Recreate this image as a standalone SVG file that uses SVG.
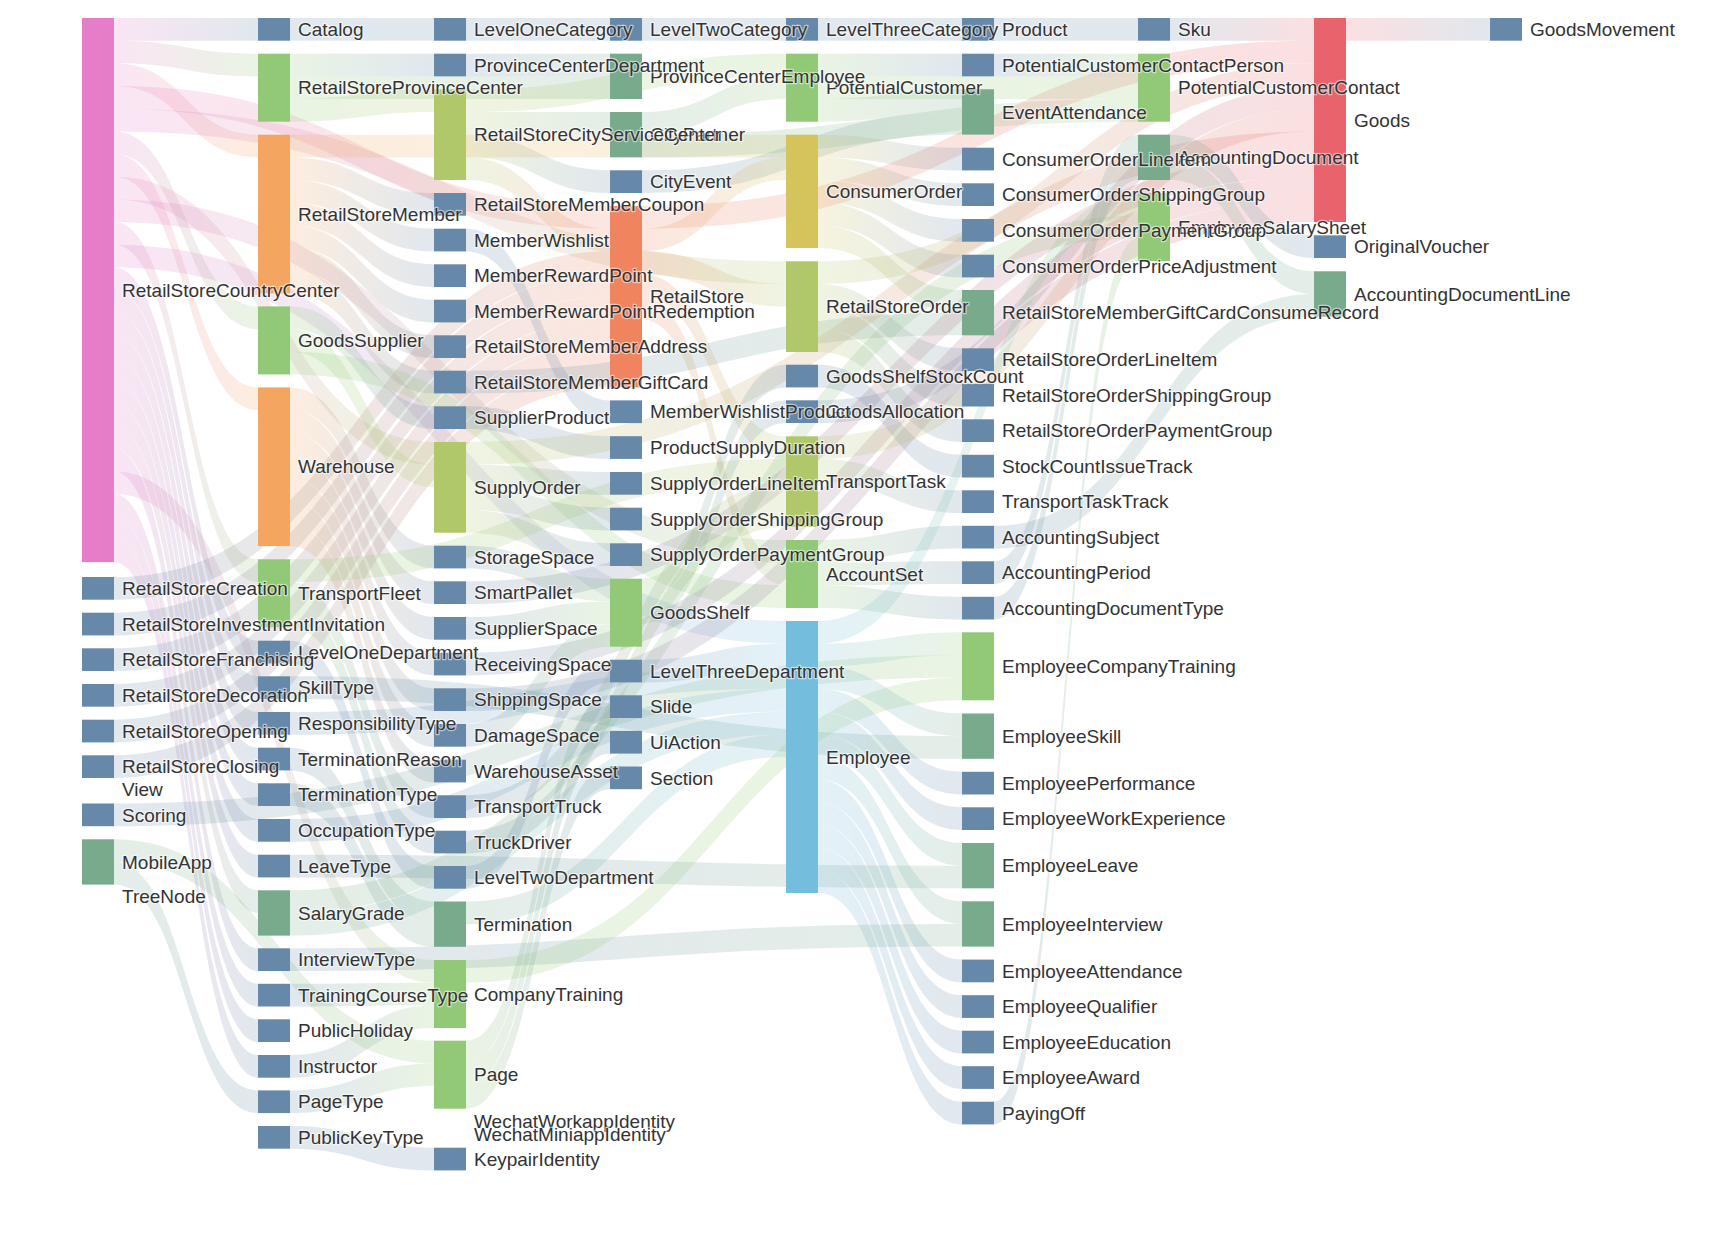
<svg xmlns="http://www.w3.org/2000/svg" width="1732" height="1242" viewBox="0 0 1732 1242">
<style>
.lk{fill-opacity:.2}
text{font-family:"Liberation Sans",Arial,Helvetica,sans-serif;font-size:19px;fill:#333;stroke:#fff;stroke-width:2.5px;stroke-opacity:.55;stroke-linejoin:round;paint-order:stroke}
.P{fill:#e67dc8}.B{fill:#6789a9}.G{fill:#91c977}.O{fill:#f4a55f}.L{fill:#b1c86a}.S{fill:#78aa8c}.R{fill:#ef845f}.Y{fill:#d5c35c}.D{fill:#e8636b}.C{fill:#74bddc}
</style>
<defs>
<linearGradient id="PB"><stop offset="0" stop-color="#e67dc8"/><stop offset="1" stop-color="#6789a9"/></linearGradient>
<linearGradient id="PG"><stop offset="0" stop-color="#e67dc8"/><stop offset="1" stop-color="#91c977"/></linearGradient>
<linearGradient id="PO"><stop offset="0" stop-color="#e67dc8"/><stop offset="1" stop-color="#f4a55f"/></linearGradient>
<linearGradient id="PR"><stop offset="0" stop-color="#e67dc8"/><stop offset="1" stop-color="#ef845f"/></linearGradient>
<linearGradient id="PL"><stop offset="0" stop-color="#e67dc8"/><stop offset="1" stop-color="#b1c86a"/></linearGradient>
<linearGradient id="PC"><stop offset="0" stop-color="#e67dc8"/><stop offset="1" stop-color="#74bddc"/></linearGradient>
<linearGradient id="PS"><stop offset="0" stop-color="#e67dc8"/><stop offset="1" stop-color="#78aa8c"/></linearGradient>
<linearGradient id="BR"><stop offset="0" stop-color="#6789a9"/><stop offset="1" stop-color="#ef845f"/></linearGradient>
<linearGradient id="BG"><stop offset="0" stop-color="#6789a9"/><stop offset="1" stop-color="#91c977"/></linearGradient>
<linearGradient id="BB"><stop offset="0" stop-color="#6789a9"/><stop offset="1" stop-color="#6789a9"/></linearGradient>
<linearGradient id="BS"><stop offset="0" stop-color="#6789a9"/><stop offset="1" stop-color="#78aa8c"/></linearGradient>
<linearGradient id="BC"><stop offset="0" stop-color="#6789a9"/><stop offset="1" stop-color="#74bddc"/></linearGradient>
<linearGradient id="BD"><stop offset="0" stop-color="#6789a9"/><stop offset="1" stop-color="#e8636b"/></linearGradient>
<linearGradient id="BL"><stop offset="0" stop-color="#6789a9"/><stop offset="1" stop-color="#b1c86a"/></linearGradient>
<linearGradient id="SG"><stop offset="0" stop-color="#78aa8c"/><stop offset="1" stop-color="#91c977"/></linearGradient>
<linearGradient id="SB"><stop offset="0" stop-color="#78aa8c"/><stop offset="1" stop-color="#6789a9"/></linearGradient>
<linearGradient id="SC"><stop offset="0" stop-color="#78aa8c"/><stop offset="1" stop-color="#74bddc"/></linearGradient>
<linearGradient id="SS"><stop offset="0" stop-color="#78aa8c"/><stop offset="1" stop-color="#78aa8c"/></linearGradient>
<linearGradient id="GB"><stop offset="0" stop-color="#91c977"/><stop offset="1" stop-color="#6789a9"/></linearGradient>
<linearGradient id="GS"><stop offset="0" stop-color="#91c977"/><stop offset="1" stop-color="#78aa8c"/></linearGradient>
<linearGradient id="GL"><stop offset="0" stop-color="#91c977"/><stop offset="1" stop-color="#b1c86a"/></linearGradient>
<linearGradient id="GG"><stop offset="0" stop-color="#91c977"/><stop offset="1" stop-color="#91c977"/></linearGradient>
<linearGradient id="OY"><stop offset="0" stop-color="#f4a55f"/><stop offset="1" stop-color="#d5c35c"/></linearGradient>
<linearGradient id="OB"><stop offset="0" stop-color="#f4a55f"/><stop offset="1" stop-color="#6789a9"/></linearGradient>
<linearGradient id="LG"><stop offset="0" stop-color="#b1c86a"/><stop offset="1" stop-color="#91c977"/></linearGradient>
<linearGradient id="LS"><stop offset="0" stop-color="#b1c86a"/><stop offset="1" stop-color="#78aa8c"/></linearGradient>
<linearGradient id="LB"><stop offset="0" stop-color="#b1c86a"/><stop offset="1" stop-color="#6789a9"/></linearGradient>
<linearGradient id="LR"><stop offset="0" stop-color="#b1c86a"/><stop offset="1" stop-color="#ef845f"/></linearGradient>
<linearGradient id="LD"><stop offset="0" stop-color="#b1c86a"/><stop offset="1" stop-color="#e8636b"/></linearGradient>
<linearGradient id="RD"><stop offset="0" stop-color="#ef845f"/><stop offset="1" stop-color="#e8636b"/></linearGradient>
<linearGradient id="RY"><stop offset="0" stop-color="#ef845f"/><stop offset="1" stop-color="#d5c35c"/></linearGradient>
<linearGradient id="RL"><stop offset="0" stop-color="#ef845f"/><stop offset="1" stop-color="#b1c86a"/></linearGradient>
<linearGradient id="RG"><stop offset="0" stop-color="#ef845f"/><stop offset="1" stop-color="#91c977"/></linearGradient>
<linearGradient id="YB"><stop offset="0" stop-color="#d5c35c"/><stop offset="1" stop-color="#6789a9"/></linearGradient>
<linearGradient id="YS"><stop offset="0" stop-color="#d5c35c"/><stop offset="1" stop-color="#78aa8c"/></linearGradient>
<linearGradient id="CG"><stop offset="0" stop-color="#74bddc"/><stop offset="1" stop-color="#91c977"/></linearGradient>
<linearGradient id="CS"><stop offset="0" stop-color="#74bddc"/><stop offset="1" stop-color="#78aa8c"/></linearGradient>
<linearGradient id="CB"><stop offset="0" stop-color="#74bddc"/><stop offset="1" stop-color="#6789a9"/></linearGradient>
<linearGradient id="DB"><stop offset="0" stop-color="#e8636b"/><stop offset="1" stop-color="#6789a9"/></linearGradient>
</defs>
<rect width="1732" height="1242" fill="#fff"/>
<g id="links">
<path class="lk" fill="url(#PB)" d="M114 18C186 18 186 18 258 18V40.7C186 40.7 186 40.7 114 40.7Z"/>
<path class="lk" fill="url(#PG)" d="M114 40.7C186 40.7 186 53.7 258 53.7V76.4C186 76.4 186 63.3 114 63.3Z"/>
<path class="lk" fill="url(#PO)" d="M114 63.3C186 63.3 186 134.7 258 134.7V157.4C186 157.4 186 86 114 86Z"/>
<path class="lk" fill="url(#PR)" d="M114 86C362 86 362 206 610 206V228.7C362 228.7 362 108.7 114 108.7Z"/>
<path class="lk" fill="url(#PL)" d="M114 108.7C450 108.7 450 261.3 786 261.3V284C450 284 450 131.4 114 131.4Z"/>
<path class="lk" fill="url(#PG)" d="M114 131.4C186 131.4 186 306.4 258 306.4V329.1C186 329.1 186 154 114 154Z"/>
<path class="lk" fill="url(#PO)" d="M114 154C186 154 186 387.4 258 387.4V410.1C186 410.1 186 176.7 114 176.7Z"/>
<path class="lk" fill="url(#PL)" d="M114 176.7C274 176.7 274 442 434 442V464.7C274 464.7 274 199.4 114 199.4Z"/>
<path class="lk" fill="url(#PG)" d="M114 199.4C450 199.4 450 540 786 540V562.7C450 562.7 450 222 114 222Z"/>
<path class="lk" fill="url(#PG)" d="M114 222C186 222 186 559.3 258 559.3V582C186 582 186 244.7 114 244.7Z"/>
<path class="lk" fill="url(#PC)" d="M114 244.7C450 244.7 450 621 786 621V643.7C450 643.7 450 267.4 114 267.4Z"/>
<path class="lk" fill="url(#PB)" d="M114 267.4C186 267.4 186 640.7 258 640.7V663.4C186 663.4 186 290 114 290Z"/>
<path class="lk" fill="url(#PB)" d="M114 290C186 290 186 676.3 258 676.3V699C186 699 186 312.7 114 312.7Z"/>
<path class="lk" fill="url(#PB)" d="M114 312.7C186 312.7 186 712 258 712V734.7C186 734.7 186 335.4 114 335.4Z"/>
<path class="lk" fill="url(#PB)" d="M114 335.4C186 335.4 186 747.7 258 747.7V770.4C186 770.4 186 358 114 358Z"/>
<path class="lk" fill="url(#PB)" d="M114 358C186 358 186 783.3 258 783.3V806C186 806 186 380.7 114 380.7Z"/>
<path class="lk" fill="url(#PB)" d="M114 380.7C186 380.7 186 819 258 819V841.7C186 841.7 186 403.4 114 403.4Z"/>
<path class="lk" fill="url(#PB)" d="M114 403.4C186 403.4 186 854.7 258 854.7V877.4C186 877.4 186 426.1 114 426.1Z"/>
<path class="lk" fill="url(#PS)" d="M114 426.1C186 426.1 186 890.3 258 890.3V913C186 913 186 448.7 114 448.7Z"/>
<path class="lk" fill="url(#PB)" d="M114 448.7C186 448.7 186 948.3 258 948.3V971C186 971 186 471.4 114 471.4Z"/>
<path class="lk" fill="url(#PG)" d="M114 471.4C274 471.4 274 960 434 960V982.7C274 982.7 274 494.1 114 494.1Z"/>
<path class="lk" fill="url(#PB)" d="M114 494.1C186 494.1 186 983.8 258 983.8V1006.5C186 1006.5 186 516.7 114 516.7Z"/>
<path class="lk" fill="url(#PB)" d="M114 516.7C186 516.7 186 1019.3 258 1019.3V1042C186 1042 186 539.4 114 539.4Z"/>
<path class="lk" fill="url(#PB)" d="M114 539.4C186 539.4 186 1055 258 1055V1077.7C186 1077.7 186 562.1 114 562.1Z"/>
<path class="lk" fill="url(#BR)" d="M114 577C362 577 362 251.3 610 251.3V274C362 274 362 599.7 114 599.7Z"/>
<path class="lk" fill="url(#BR)" d="M114 612.7C362 612.7 362 274 610 274V296.7C362 296.7 362 635.4 114 635.4Z"/>
<path class="lk" fill="url(#BR)" d="M114 648.3C362 648.3 362 296.7 610 296.7V319.4C362 319.4 362 671 114 671Z"/>
<path class="lk" fill="url(#BR)" d="M114 684C362 684 362 319.4 610 319.4V342C362 342 362 706.7 114 706.7Z"/>
<path class="lk" fill="url(#BR)" d="M114 719.7C362 719.7 362 342 610 342V364.7C362 364.7 362 742.4 114 742.4Z"/>
<path class="lk" fill="url(#BR)" d="M114 755.3C362 755.3 362 364.7 610 364.7V387.4C362 387.4 362 778 114 778Z"/>
<path class="lk" fill="url(#BG)" d="M114 803.5C538 803.5 538 655 962 655V677.6C538 677.6 538 826.2 114 826.2Z"/>
<path class="lk" fill="url(#SG)" d="M114 839.3C274 839.3 274 1040.7 434 1040.7V1063.4C274 1063.4 274 862 114 862Z"/>
<path class="lk" fill="url(#SB)" d="M114 862C186 862 186 1090.4 258 1090.4V1113.1C186 1113.1 186 884.6 114 884.6Z"/>
<path class="lk" fill="url(#BB)" d="M290 18C362 18 362 18 434 18V40.7C362 40.7 362 40.7 290 40.7Z"/>
<path class="lk" fill="url(#GB)" d="M290 53.7C362 53.7 362 53.7 434 53.7V76.4C362 76.4 362 76.4 290 76.4Z"/>
<path class="lk" fill="url(#GS)" d="M290 76.4C450 76.4 450 76.4 610 76.4V99C450 99 450 99 290 99Z"/>
<path class="lk" fill="url(#GL)" d="M290 99C362 99 362 89.3 434 89.3V112C362 112 362 121.7 290 121.7Z"/>
<path class="lk" fill="url(#OY)" d="M290 134.7C538 134.7 538 134.7 786 134.7V157.4C538 157.4 538 157.4 290 157.4Z"/>
<path class="lk" fill="url(#OB)" d="M290 157.4C362 157.4 362 193 434 193V215.7C362 215.7 362 180 290 180Z"/>
<path class="lk" fill="url(#OB)" d="M290 180C362 180 362 228.7 434 228.7V251.4C362 251.4 362 202.7 290 202.7Z"/>
<path class="lk" fill="url(#OB)" d="M290 202.7C362 202.7 362 264.3 434 264.3V287C362 287 362 225.4 290 225.4Z"/>
<path class="lk" fill="url(#OB)" d="M290 225.4C362 225.4 362 299.7 434 299.7V322.4C362 322.4 362 248 290 248Z"/>
<path class="lk" fill="url(#OB)" d="M290 248C362 248 362 335.3 434 335.3V358C362 358 362 270.7 290 270.7Z"/>
<path class="lk" fill="url(#OB)" d="M290 270.7C362 270.7 362 370.7 434 370.7V393.4C362 393.4 362 293.4 290 293.4Z"/>
<path class="lk" fill="url(#GB)" d="M290 306.4C362 306.4 362 406.3 434 406.3V429C362 429 362 329.1 290 329.1Z"/>
<path class="lk" fill="url(#GL)" d="M290 329.1C362 329.1 362 464.7 434 464.7V487.3C362 487.3 362 351.7 290 351.7Z"/>
<path class="lk" fill="url(#GG)" d="M290 351.7C538 351.7 538 585.3 786 585.3V608C538 608 538 374.4 290 374.4Z"/>
<path class="lk" fill="url(#OB)" d="M290 387.4C362 387.4 362 545.7 434 545.7V568.4C362 568.4 362 410.1 290 410.1Z"/>
<path class="lk" fill="url(#OB)" d="M290 410.1C362 410.1 362 581.3 434 581.3V604C362 604 362 432.7 290 432.7Z"/>
<path class="lk" fill="url(#OB)" d="M290 432.7C362 432.7 362 617 434 617V639.7C362 639.7 362 455.4 290 455.4Z"/>
<path class="lk" fill="url(#OB)" d="M290 455.4C362 455.4 362 652.7 434 652.7V675.4C362 675.4 362 478.1 290 478.1Z"/>
<path class="lk" fill="url(#OB)" d="M290 478.1C362 478.1 362 688.3 434 688.3V711C362 711 362 500.8 290 500.8Z"/>
<path class="lk" fill="url(#OB)" d="M290 500.8C362 500.8 362 724 434 724V746.7C362 746.7 362 523.4 290 523.4Z"/>
<path class="lk" fill="url(#OB)" d="M290 523.4C362 523.4 362 759.7 434 759.7V782.4C362 782.4 362 546.1 290 546.1Z"/>
<path class="lk" fill="url(#GL)" d="M290 559.3C538 559.3 538 459 786 459V481.6C538 481.6 538 582 290 582Z"/>
<path class="lk" fill="url(#GB)" d="M290 582C362 582 362 795.3 434 795.3V818C362 818 362 604.6 290 604.6Z"/>
<path class="lk" fill="url(#GB)" d="M290 604.6C362 604.6 362 830.7 434 830.7V853.4C362 853.4 362 627.3 290 627.3Z"/>
<path class="lk" fill="url(#BB)" d="M290 640.7C362 640.7 362 866 434 866V888.7C362 888.7 362 663.4 290 663.4Z"/>
<path class="lk" fill="url(#BS)" d="M290 676.3C626 676.3 626 736.2 962 736.2V758.8C626 758.8 626 699 290 699Z"/>
<path class="lk" fill="url(#BC)" d="M290 712C538 712 538 666.3 786 666.3V689C538 689 538 734.7 290 734.7Z"/>
<path class="lk" fill="url(#BS)" d="M290 747.7C362 747.7 362 901.5 434 901.5V924.2C362 924.2 362 770.4 290 770.4Z"/>
<path class="lk" fill="url(#BS)" d="M290 783.3C362 783.3 362 924.2 434 924.2V946.8C362 946.8 362 806 290 806Z"/>
<path class="lk" fill="url(#BC)" d="M290 819C538 819 538 689 786 689V711.7C538 711.7 538 841.7 290 841.7Z"/>
<path class="lk" fill="url(#BS)" d="M290 854.7C626 854.7 626 865.7 962 865.7V888.3C626 888.3 626 877.4 290 877.4Z"/>
<path class="lk" fill="url(#SG)" d="M290 890.3C714 890.3 714 215.7 1138 215.7V238.3C714 238.3 714 913 290 913Z"/>
<path class="lk" fill="url(#SC)" d="M290 913C538 913 538 711.7 786 711.7V734.4C538 734.4 538 935.6 290 935.6Z"/>
<path class="lk" fill="url(#BS)" d="M290 948.3C626 948.3 626 924 962 924V946.6C626 946.6 626 971 290 971Z"/>
<path class="lk" fill="url(#BG)" d="M290 983.8C362 983.8 362 982.7 434 982.7V1005.3C362 1005.3 362 1006.5 290 1006.5Z"/>
<path class="lk" fill="url(#BG)" d="M290 1055C362 1055 362 1005.3 434 1005.3V1028C362 1028 362 1077.7 290 1077.7Z"/>
<path class="lk" fill="url(#BG)" d="M290 1090.4C362 1090.4 362 1063.4 434 1063.4V1086C362 1086 362 1113.1 290 1113.1Z"/>
<path class="lk" fill="url(#BB)" d="M290 1126C362 1126 362 1147.7 434 1147.7V1170.4C362 1170.4 362 1148.7 290 1148.7Z"/>
<path class="lk" fill="url(#BB)" d="M466 18C538 18 538 18 610 18V40.7C538 40.7 538 40.7 466 40.7Z"/>
<path class="lk" fill="url(#BS)" d="M466 53.7C538 53.7 538 53.7 610 53.7V76.4C538 76.4 538 76.4 466 76.4Z"/>
<path class="lk" fill="url(#LG)" d="M466 89.3C626 89.3 626 53.7 786 53.7V76.4C626 76.4 626 112 466 112Z"/>
<path class="lk" fill="url(#LS)" d="M466 112C538 112 538 112 610 112V134.7C538 134.7 538 134.7 466 134.7Z"/>
<path class="lk" fill="url(#LB)" d="M466 134.7C538 134.7 538 170.3 610 170.3V193C538 193 538 157.3 466 157.3Z"/>
<path class="lk" fill="url(#LR)" d="M466 157.3C538 157.3 538 228.7 610 228.7V251.3C538 251.3 538 180 466 180Z"/>
<path class="lk" fill="url(#BB)" d="M466 228.7C538 228.7 538 400.4 610 400.4V423.1C538 423.1 538 251.4 466 251.4Z"/>
<path class="lk" fill="url(#BS)" d="M466 370.7C714 370.7 714 312.7 962 312.7V335.3C714 335.3 714 393.4 466 393.4Z"/>
<path class="lk" fill="url(#BB)" d="M466 406.3C538 406.3 538 436.2 610 436.2V458.9C538 458.9 538 429 466 429Z"/>
<path class="lk" fill="url(#LD)" d="M466 442C890 442 890 131.4 1314 131.4V154C890 154 890 464.7 466 464.7Z"/>
<path class="lk" fill="url(#LB)" d="M466 464.7C538 464.7 538 472 610 472V494.7C538 494.7 538 487.3 466 487.3Z"/>
<path class="lk" fill="url(#LB)" d="M466 487.3C538 487.3 538 507.7 610 507.7V530.4C538 530.4 538 510 466 510Z"/>
<path class="lk" fill="url(#LB)" d="M466 510C538 510 538 543.3 610 543.3V566C538 566 538 532.7 466 532.7Z"/>
<path class="lk" fill="url(#BG)" d="M466 545.7C538 545.7 538 578.7 610 578.7V601.4C538 601.4 538 568.4 466 568.4Z"/>
<path class="lk" fill="url(#BD)" d="M466 581.3C890 581.3 890 154 1314 154V176.7C890 176.7 890 604 466 604Z"/>
<path class="lk" fill="url(#BG)" d="M466 617C538 617 538 601.4 610 601.4V624C538 624 538 639.7 466 639.7Z"/>
<path class="lk" fill="url(#BD)" d="M466 652.7C890 652.7 890 176.7 1314 176.7V199.4C890 199.4 890 675.4 466 675.4Z"/>
<path class="lk" fill="url(#BD)" d="M466 688.3C890 688.3 890 199.4 1314 199.4V222C890 222 890 711 466 711Z"/>
<path class="lk" fill="url(#BG)" d="M466 724C538 724 538 624 610 624V646.7C538 646.7 538 746.7 466 746.7Z"/>
<path class="lk" fill="url(#BL)" d="M466 795.3C626 795.3 626 481.6 786 481.6V504.3C626 504.3 626 818 466 818Z"/>
<path class="lk" fill="url(#BL)" d="M466 830.7C626 830.7 626 504.3 786 504.3V527C626 527 626 853.4 466 853.4Z"/>
<path class="lk" fill="url(#BB)" d="M466 866C538 866 538 659.7 610 659.7V682.4C538 682.4 538 888.7 466 888.7Z"/>
<path class="lk" fill="url(#SC)" d="M466 901.5C626 901.5 626 734.4 786 734.4V757C626 757 626 924.2 466 924.2Z"/>
<path class="lk" fill="url(#GG)" d="M466 960C714 960 714 677.6 962 677.6V700.3C714 700.3 714 982.7 466 982.7Z"/>
<path class="lk" fill="url(#GB)" d="M466 1040.7C538 1040.7 538 695.3 610 695.3V718C538 718 538 1063.4 466 1063.4Z"/>
<path class="lk" fill="url(#GB)" d="M466 1063.4C538 1063.4 538 730.9 610 730.9V753.6C538 753.6 538 1086 466 1086Z"/>
<path class="lk" fill="url(#GB)" d="M466 1086C538 1086 538 766.5 610 766.5V789.2C538 789.2 538 1108.7 466 1108.7Z"/>
<path class="lk" fill="url(#BB)" d="M642 18C714 18 714 18 786 18V40.7C714 40.7 714 40.7 642 40.7Z"/>
<path class="lk" fill="url(#SG)" d="M642 112C714 112 714 76.4 786 76.4V99C714 99 714 134.7 642 134.7Z"/>
<path class="lk" fill="url(#SG)" d="M642 134.7C890 134.7 890 99 1138 99V121.7C890 121.7 890 157.3 642 157.3Z"/>
<path class="lk" fill="url(#BS)" d="M642 170.3C802 170.3 802 112 962 112V134.6C802 134.6 802 193 642 193Z"/>
<path class="lk" fill="url(#RD)" d="M642 206C978 206 978 40.7 1314 40.7V63.3C978 63.3 978 228.7 642 228.7Z"/>
<path class="lk" fill="url(#RY)" d="M642 228.7C714 228.7 714 157.4 786 157.4V180C714 180 714 251.3 642 251.3Z"/>
<path class="lk" fill="url(#RL)" d="M642 251.3C714 251.3 714 284 786 284V306.6C714 306.6 714 274 642 274Z"/>
<path class="lk" fill="url(#RL)" d="M642 274C714 274 714 436.3 786 436.3V459C714 459 714 296.7 642 296.7Z"/>
<path class="lk" fill="url(#RG)" d="M642 296.7C714 296.7 714 562.7 786 562.7V585.3C714 585.3 714 319.4 642 319.4Z"/>
<path class="lk" fill="url(#GB)" d="M642 578.7C714 578.7 714 364.7 786 364.7V387.4C714 387.4 714 601.4 642 601.4Z"/>
<path class="lk" fill="url(#GB)" d="M642 601.4C714 601.4 714 400.3 786 400.3V423C714 423 714 624 642 624Z"/>
<path class="lk" fill="url(#BC)" d="M642 659.7C714 659.7 714 643.7 786 643.7V666.3C714 666.3 714 682.4 642 682.4Z"/>
<path class="lk" fill="url(#BB)" d="M818 18C890 18 890 18 962 18V40.7C890 40.7 890 40.7 818 40.7Z"/>
<path class="lk" fill="url(#GB)" d="M818 53.7C890 53.7 890 53.7 962 53.7V76.4C890 76.4 890 76.4 818 76.4Z"/>
<path class="lk" fill="url(#GG)" d="M818 76.4C978 76.4 978 76.4 1138 76.4V99C978 99 978 99 818 99Z"/>
<path class="lk" fill="url(#GS)" d="M818 99C890 99 890 89.3 962 89.3V112C890 112 890 121.7 818 121.7Z"/>
<path class="lk" fill="url(#YB)" d="M818 134.7C890 134.7 890 147.7 962 147.7V170.4C890 170.4 890 157.4 818 157.4Z"/>
<path class="lk" fill="url(#YB)" d="M818 157.4C890 157.4 890 183.3 962 183.3V206C890 206 890 180 818 180Z"/>
<path class="lk" fill="url(#YB)" d="M818 180C890 180 890 219 962 219V241.7C890 241.7 890 202.7 818 202.7Z"/>
<path class="lk" fill="url(#YB)" d="M818 202.7C890 202.7 890 254.7 962 254.7V277.4C890 277.4 890 225.4 818 225.4Z"/>
<path class="lk" fill="url(#YS)" d="M818 225.4C890 225.4 890 290 962 290V312.7C890 312.7 890 248 818 248Z"/>
<path class="lk" fill="url(#LD)" d="M818 261.3C1066 261.3 1066 63.3 1314 63.3V86C1066 86 1066 284 818 284Z"/>
<path class="lk" fill="url(#LB)" d="M818 284C890 284 890 348.3 962 348.3V371C890 371 890 306.6 818 306.6Z"/>
<path class="lk" fill="url(#LB)" d="M818 306.6C890 306.6 890 383.8 962 383.8V406.5C890 406.5 890 329.3 818 329.3Z"/>
<path class="lk" fill="url(#LB)" d="M818 329.3C890 329.3 890 419.3 962 419.3V442C890 442 890 352 818 352Z"/>
<path class="lk" fill="url(#BB)" d="M818 364.7C890 364.7 890 454.8 962 454.8V477.5C890 477.5 890 387.4 818 387.4Z"/>
<path class="lk" fill="url(#BD)" d="M818 400.3C1066 400.3 1066 86 1314 86V108.7C1066 108.7 1066 423 818 423Z"/>
<path class="lk" fill="url(#LD)" d="M818 436.3C1066 436.3 1066 108.7 1314 108.7V131.4C1066 131.4 1066 459 818 459Z"/>
<path class="lk" fill="url(#LB)" d="M818 459C890 459 890 490.3 962 490.3V513C890 513 890 481.6 818 481.6Z"/>
<path class="lk" fill="url(#GB)" d="M818 540C890 540 890 525.8 962 525.8V548.5C890 548.5 890 562.7 818 562.7Z"/>
<path class="lk" fill="url(#GB)" d="M818 562.7C890 562.7 890 561.3 962 561.3V584C890 584 890 585.3 818 585.3Z"/>
<path class="lk" fill="url(#GB)" d="M818 585.3C890 585.3 890 596.8 962 596.8V619.5C890 619.5 890 608 818 608Z"/>
<path class="lk" fill="url(#CG)" d="M818 621C978 621 978 193 1138 193V215.7C978 215.7 978 643.7 818 643.7Z"/>
<path class="lk" fill="url(#CG)" d="M818 643.7C890 643.7 890 632.3 962 632.3V655C890 655 890 666.3 818 666.3Z"/>
<path class="lk" fill="url(#CS)" d="M818 666.3C890 666.3 890 713.5 962 713.5V736.2C890 736.2 890 689 818 689Z"/>
<path class="lk" fill="url(#CB)" d="M818 689C890 689 890 771.8 962 771.8V794.5C890 794.5 890 711.7 818 711.7Z"/>
<path class="lk" fill="url(#CB)" d="M818 711.7C890 711.7 890 807.3 962 807.3V830C890 830 890 734.4 818 734.4Z"/>
<path class="lk" fill="url(#CS)" d="M818 734.4C890 734.4 890 843 962 843V865.7C890 865.7 890 757 818 757Z"/>
<path class="lk" fill="url(#CS)" d="M818 757C890 757 890 901.3 962 901.3V924C890 924 890 779.7 818 779.7Z"/>
<path class="lk" fill="url(#CB)" d="M818 779.7C890 779.7 890 959.6 962 959.6V982.3C890 982.3 890 802.4 818 802.4Z"/>
<path class="lk" fill="url(#CB)" d="M818 802.4C890 802.4 890 995.2 962 995.2V1017.9C890 1017.9 890 825 818 825Z"/>
<path class="lk" fill="url(#CB)" d="M818 825C890 825 890 1030.7 962 1030.7V1053.4C890 1053.4 890 847.7 818 847.7Z"/>
<path class="lk" fill="url(#CB)" d="M818 847.7C890 847.7 890 1066.2 962 1066.2V1088.9C890 1088.9 890 870.4 818 870.4Z"/>
<path class="lk" fill="url(#CB)" d="M818 870.4C890 870.4 890 1101.7 962 1101.7V1124.4C890 1124.4 890 893 818 893Z"/>
<path class="lk" fill="url(#BB)" d="M994 18C1066 18 1066 18 1138 18V40.7C1066 40.7 1066 40.7 994 40.7Z"/>
<path class="lk" fill="url(#BG)" d="M994 53.7C1066 53.7 1066 53.7 1138 53.7V76.4C1066 76.4 1066 76.4 994 76.4Z"/>
<path class="lk" fill="url(#BS)" d="M994 525.8C1154 525.8 1154 294 1314 294V316.6C1154 316.6 1154 548.5 994 548.5Z"/>
<path class="lk" fill="url(#BS)" d="M994 561.3C1066 561.3 1066 134.7 1138 134.7V157.4C1066 157.4 1066 584 994 584Z"/>
<path class="lk" fill="url(#BS)" d="M994 596.8C1066 596.8 1066 157.4 1138 157.4V180C1066 180 1066 619.5 994 619.5Z"/>
<path class="lk" fill="url(#BG)" d="M994 1101.7C1066 1101.7 1066 238.3 1138 238.3V261C1066 261 1066 1124.4 994 1124.4Z"/>
<path class="lk" fill="url(#BD)" d="M1170 18C1242 18 1242 18 1314 18V40.7C1242 40.7 1242 40.7 1170 40.7Z"/>
<path class="lk" fill="url(#SB)" d="M1170 134.7C1242 134.7 1242 235.3 1314 235.3V258C1242 258 1242 157.4 1170 157.4Z"/>
<path class="lk" fill="url(#SS)" d="M1170 157.4C1242 157.4 1242 271.3 1314 271.3V294C1242 294 1242 180 1170 180Z"/>
<path class="lk" fill="url(#DB)" d="M1346 18C1418 18 1418 18 1490 18V40.7C1418 40.7 1418 40.7 1346 40.7Z"/>
</g>
<g id="nodes">
<g id="n-GoodsMovement"><rect class="B" x="1490" y="18" width="32" height="22.7"/><text x="1530" y="36">GoodsMovement</text></g>
<g id="n-Goods"><rect class="D" x="1314" y="18" width="32" height="204"/><text x="1354" y="126.7">Goods</text></g>
<g id="n-OriginalVoucher"><rect class="B" x="1314" y="235.3" width="32" height="22.7"/><text x="1354" y="253.3">OriginalVoucher</text></g>
<g id="n-AccountingDocumentLine"><rect class="S" x="1314" y="271.3" width="32" height="45.3"/><text x="1354" y="300.6">AccountingDocumentLine</text></g>
<g id="n-Sku"><rect class="B" x="1138" y="18" width="32" height="22.7"/><text x="1178" y="36">Sku</text></g>
<g id="n-PotentialCustomerContact"><rect class="G" x="1138" y="53.7" width="32" height="68"/><text x="1178" y="94.3">PotentialCustomerContact</text></g>
<g id="n-AccountingDocument"><rect class="S" x="1138" y="134.7" width="32" height="45.3"/><text x="1178" y="164">AccountingDocument</text></g>
<g id="n-EmployeeSalarySheet"><rect class="G" x="1138" y="193" width="32" height="68"/><text x="1178" y="233.7">EmployeeSalarySheet</text></g>
<g id="n-Product"><rect class="B" x="962" y="18" width="32" height="22.7"/><text x="1002" y="36">Product</text></g>
<g id="n-PotentialCustomerContactPerson"><rect class="B" x="962" y="53.7" width="32" height="22.7"/><text x="1002" y="71.7">PotentialCustomerContactPerson</text></g>
<g id="n-EventAttendance"><rect class="S" x="962" y="89.3" width="32" height="45.3"/><text x="1002" y="118.6">EventAttendance</text></g>
<g id="n-ConsumerOrderLineItem"><rect class="B" x="962" y="147.7" width="32" height="22.7"/><text x="1002" y="165.7">ConsumerOrderLineItem</text></g>
<g id="n-ConsumerOrderShippingGroup"><rect class="B" x="962" y="183.3" width="32" height="22.7"/><text x="1002" y="201.3">ConsumerOrderShippingGroup</text></g>
<g id="n-ConsumerOrderPaymentGroup"><rect class="B" x="962" y="219" width="32" height="22.7"/><text x="1002" y="237">ConsumerOrderPaymentGroup</text></g>
<g id="n-ConsumerOrderPriceAdjustment"><rect class="B" x="962" y="254.7" width="32" height="22.7"/><text x="1002" y="272.7">ConsumerOrderPriceAdjustment</text></g>
<g id="n-RetailStoreMemberGiftCardConsumeRecord"><rect class="S" x="962" y="290" width="32" height="45.3"/><text x="1002" y="319.3">RetailStoreMemberGiftCardConsumeRecord</text></g>
<g id="n-RetailStoreOrderLineItem"><rect class="B" x="962" y="348.3" width="32" height="22.7"/><text x="1002" y="366.3">RetailStoreOrderLineItem</text></g>
<g id="n-RetailStoreOrderShippingGroup"><rect class="B" x="962" y="383.8" width="32" height="22.7"/><text x="1002" y="401.8">RetailStoreOrderShippingGroup</text></g>
<g id="n-RetailStoreOrderPaymentGroup"><rect class="B" x="962" y="419.3" width="32" height="22.7"/><text x="1002" y="437.3">RetailStoreOrderPaymentGroup</text></g>
<g id="n-StockCountIssueTrack"><rect class="B" x="962" y="454.8" width="32" height="22.7"/><text x="1002" y="472.8">StockCountIssueTrack</text></g>
<g id="n-TransportTaskTrack"><rect class="B" x="962" y="490.3" width="32" height="22.7"/><text x="1002" y="508.3">TransportTaskTrack</text></g>
<g id="n-AccountingSubject"><rect class="B" x="962" y="525.8" width="32" height="22.7"/><text x="1002" y="543.8">AccountingSubject</text></g>
<g id="n-AccountingPeriod"><rect class="B" x="962" y="561.3" width="32" height="22.7"/><text x="1002" y="579.3">AccountingPeriod</text></g>
<g id="n-AccountingDocumentType"><rect class="B" x="962" y="596.8" width="32" height="22.7"/><text x="1002" y="614.8">AccountingDocumentType</text></g>
<g id="n-EmployeeCompanyTraining"><rect class="G" x="962" y="632.3" width="32" height="68"/><text x="1002" y="673">EmployeeCompanyTraining</text></g>
<g id="n-EmployeeSkill"><rect class="S" x="962" y="713.5" width="32" height="45.3"/><text x="1002" y="742.8">EmployeeSkill</text></g>
<g id="n-EmployeePerformance"><rect class="B" x="962" y="771.8" width="32" height="22.7"/><text x="1002" y="789.8">EmployeePerformance</text></g>
<g id="n-EmployeeWorkExperience"><rect class="B" x="962" y="807.3" width="32" height="22.7"/><text x="1002" y="825.3">EmployeeWorkExperience</text></g>
<g id="n-EmployeeLeave"><rect class="S" x="962" y="843" width="32" height="45.3"/><text x="1002" y="872.3">EmployeeLeave</text></g>
<g id="n-EmployeeInterview"><rect class="S" x="962" y="901.3" width="32" height="45.3"/><text x="1002" y="930.6">EmployeeInterview</text></g>
<g id="n-EmployeeAttendance"><rect class="B" x="962" y="959.6" width="32" height="22.7"/><text x="1002" y="977.6">EmployeeAttendance</text></g>
<g id="n-EmployeeQualifier"><rect class="B" x="962" y="995.2" width="32" height="22.7"/><text x="1002" y="1013.2">EmployeeQualifier</text></g>
<g id="n-EmployeeEducation"><rect class="B" x="962" y="1030.7" width="32" height="22.7"/><text x="1002" y="1048.7">EmployeeEducation</text></g>
<g id="n-EmployeeAward"><rect class="B" x="962" y="1066.2" width="32" height="22.7"/><text x="1002" y="1084.2">EmployeeAward</text></g>
<g id="n-PayingOff"><rect class="B" x="962" y="1101.7" width="32" height="22.7"/><text x="1002" y="1119.7">PayingOff</text></g>
<g id="n-LevelThreeCategory"><rect class="B" x="786" y="18" width="32" height="22.7"/><text x="826" y="36">LevelThreeCategory</text></g>
<g id="n-PotentialCustomer"><rect class="G" x="786" y="53.7" width="32" height="68"/><text x="826" y="94.3">PotentialCustomer</text></g>
<g id="n-ConsumerOrder"><rect class="Y" x="786" y="134.7" width="32" height="113.3"/><text x="826" y="198">ConsumerOrder</text></g>
<g id="n-RetailStoreOrder"><rect class="L" x="786" y="261.3" width="32" height="90.7"/><text x="826" y="313.3">RetailStoreOrder</text></g>
<g id="n-GoodsShelfStockCount"><rect class="B" x="786" y="364.7" width="32" height="22.7"/><text x="826" y="382.7">GoodsShelfStockCount</text></g>
<g id="n-GoodsAllocation"><rect class="B" x="786" y="400.3" width="32" height="22.7"/><text x="826" y="418.3">GoodsAllocation</text></g>
<g id="n-TransportTask"><rect class="L" x="786" y="436.3" width="32" height="90.7"/><text x="826" y="488.3">TransportTask</text></g>
<g id="n-AccountSet"><rect class="G" x="786" y="540" width="32" height="68"/><text x="826" y="580.7">AccountSet</text></g>
<g id="n-Employee"><rect class="C" x="786" y="621" width="32" height="272"/><text x="826" y="763.7">Employee</text></g>
<g id="n-LevelTwoCategory"><rect class="B" x="610" y="18" width="32" height="22.7"/><text x="650" y="36">LevelTwoCategory</text></g>
<g id="n-ProvinceCenterEmployee"><rect class="S" x="610" y="53.7" width="32" height="45.3"/><text x="650" y="83">ProvinceCenterEmployee</text></g>
<g id="n-CityPartner"><rect class="S" x="610" y="112" width="32" height="45.3"/><text x="650" y="141.3">CityPartner</text></g>
<g id="n-CityEvent"><rect class="B" x="610" y="170.3" width="32" height="22.7"/><text x="650" y="188.3">CityEvent</text></g>
<g id="n-RetailStore"><rect class="R" x="610" y="206" width="32" height="181.4"/><text x="650" y="303.3">RetailStore</text></g>
<g id="n-MemberWishlistProduct"><rect class="B" x="610" y="400.4" width="32" height="22.7"/><text x="650" y="418.4">MemberWishlistProduct</text></g>
<g id="n-ProductSupplyDuration"><rect class="B" x="610" y="436.2" width="32" height="22.7"/><text x="650" y="454.2">ProductSupplyDuration</text></g>
<g id="n-SupplyOrderLineItem"><rect class="B" x="610" y="472" width="32" height="22.7"/><text x="650" y="490">SupplyOrderLineItem</text></g>
<g id="n-SupplyOrderShippingGroup"><rect class="B" x="610" y="507.7" width="32" height="22.7"/><text x="650" y="525.7">SupplyOrderShippingGroup</text></g>
<g id="n-SupplyOrderPaymentGroup"><rect class="B" x="610" y="543.3" width="32" height="22.7"/><text x="650" y="561.3">SupplyOrderPaymentGroup</text></g>
<g id="n-GoodsShelf"><rect class="G" x="610" y="578.7" width="32" height="68"/><text x="650" y="619.3">GoodsShelf</text></g>
<g id="n-LevelThreeDepartment"><rect class="B" x="610" y="659.7" width="32" height="22.7"/><text x="650" y="677.7">LevelThreeDepartment</text></g>
<g id="n-Slide"><rect class="B" x="610" y="695.3" width="32" height="22.7"/><text x="650" y="713.3">Slide</text></g>
<g id="n-UiAction"><rect class="B" x="610" y="730.9" width="32" height="22.7"/><text x="650" y="748.9">UiAction</text></g>
<g id="n-Section"><rect class="B" x="610" y="766.5" width="32" height="22.7"/><text x="650" y="784.5">Section</text></g>
<g id="n-LevelOneCategory"><rect class="B" x="434" y="18" width="32" height="22.7"/><text x="474" y="36">LevelOneCategory</text></g>
<g id="n-ProvinceCenterDepartment"><rect class="B" x="434" y="53.7" width="32" height="22.7"/><text x="474" y="71.7">ProvinceCenterDepartment</text></g>
<g id="n-RetailStoreCityServiceCenter"><rect class="L" x="434" y="89.3" width="32" height="90.7"/><text x="474" y="141.3">RetailStoreCityServiceCenter</text></g>
<g id="n-RetailStoreMemberCoupon"><rect class="B" x="434" y="193" width="32" height="22.7"/><text x="474" y="211">RetailStoreMemberCoupon</text></g>
<g id="n-MemberWishlist"><rect class="B" x="434" y="228.7" width="32" height="22.7"/><text x="474" y="246.7">MemberWishlist</text></g>
<g id="n-MemberRewardPoint"><rect class="B" x="434" y="264.3" width="32" height="22.7"/><text x="474" y="282.3">MemberRewardPoint</text></g>
<g id="n-MemberRewardPointRedemption"><rect class="B" x="434" y="299.7" width="32" height="22.7"/><text x="474" y="317.7">MemberRewardPointRedemption</text></g>
<g id="n-RetailStoreMemberAddress"><rect class="B" x="434" y="335.3" width="32" height="22.7"/><text x="474" y="353.3">RetailStoreMemberAddress</text></g>
<g id="n-RetailStoreMemberGiftCard"><rect class="B" x="434" y="370.7" width="32" height="22.7"/><text x="474" y="388.7">RetailStoreMemberGiftCard</text></g>
<g id="n-SupplierProduct"><rect class="B" x="434" y="406.3" width="32" height="22.7"/><text x="474" y="424.3">SupplierProduct</text></g>
<g id="n-SupplyOrder"><rect class="L" x="434" y="442" width="32" height="90.7"/><text x="474" y="494">SupplyOrder</text></g>
<g id="n-StorageSpace"><rect class="B" x="434" y="545.7" width="32" height="22.7"/><text x="474" y="563.7">StorageSpace</text></g>
<g id="n-SmartPallet"><rect class="B" x="434" y="581.3" width="32" height="22.7"/><text x="474" y="599.3">SmartPallet</text></g>
<g id="n-SupplierSpace"><rect class="B" x="434" y="617" width="32" height="22.7"/><text x="474" y="635">SupplierSpace</text></g>
<g id="n-ReceivingSpace"><rect class="B" x="434" y="652.7" width="32" height="22.7"/><text x="474" y="670.7">ReceivingSpace</text></g>
<g id="n-ShippingSpace"><rect class="B" x="434" y="688.3" width="32" height="22.7"/><text x="474" y="706.3">ShippingSpace</text></g>
<g id="n-DamageSpace"><rect class="B" x="434" y="724" width="32" height="22.7"/><text x="474" y="742">DamageSpace</text></g>
<g id="n-WarehouseAsset"><rect class="B" x="434" y="759.7" width="32" height="22.7"/><text x="474" y="777.7">WarehouseAsset</text></g>
<g id="n-TransportTruck"><rect class="B" x="434" y="795.3" width="32" height="22.7"/><text x="474" y="813.3">TransportTruck</text></g>
<g id="n-TruckDriver"><rect class="B" x="434" y="830.7" width="32" height="22.7"/><text x="474" y="848.7">TruckDriver</text></g>
<g id="n-LevelTwoDepartment"><rect class="B" x="434" y="866" width="32" height="22.7"/><text x="474" y="884">LevelTwoDepartment</text></g>
<g id="n-Termination"><rect class="S" x="434" y="901.5" width="32" height="45.3"/><text x="474" y="930.8">Termination</text></g>
<g id="n-CompanyTraining"><rect class="G" x="434" y="960" width="32" height="68"/><text x="474" y="1000.7">CompanyTraining</text></g>
<g id="n-Page"><rect class="G" x="434" y="1040.7" width="32" height="68"/><text x="474" y="1081.4">Page</text></g>
<g id="n-WechatWorkappIdentity"><text x="474" y="1128">WechatWorkappIdentity</text></g>
<g id="n-WechatMiniappIdentity"><text x="474" y="1140.5">WechatMiniappIdentity</text></g>
<g id="n-KeypairIdentity"><rect class="B" x="434" y="1147.7" width="32" height="22.7"/><text x="474" y="1165.7">KeypairIdentity</text></g>
<g id="n-Catalog"><rect class="B" x="258" y="18" width="32" height="22.7"/><text x="298" y="36">Catalog</text></g>
<g id="n-RetailStoreProvinceCenter"><rect class="G" x="258" y="53.7" width="32" height="68"/><text x="298" y="94.3">RetailStoreProvinceCenter</text></g>
<g id="n-RetailStoreMember"><rect class="O" x="258" y="134.7" width="32" height="158.7"/><text x="298" y="220.7">RetailStoreMember</text></g>
<g id="n-GoodsSupplier"><rect class="G" x="258" y="306.4" width="32" height="68"/><text x="298" y="347">GoodsSupplier</text></g>
<g id="n-Warehouse"><rect class="O" x="258" y="387.4" width="32" height="158.7"/><text x="298" y="473.4">Warehouse</text></g>
<g id="n-TransportFleet"><rect class="G" x="258" y="559.3" width="32" height="68"/><text x="298" y="600">TransportFleet</text></g>
<g id="n-LevelOneDepartment"><rect class="B" x="258" y="640.7" width="32" height="22.7"/><text x="298" y="658.7">LevelOneDepartment</text></g>
<g id="n-SkillType"><rect class="B" x="258" y="676.3" width="32" height="22.7"/><text x="298" y="694.3">SkillType</text></g>
<g id="n-ResponsibilityType"><rect class="B" x="258" y="712" width="32" height="22.7"/><text x="298" y="730">ResponsibilityType</text></g>
<g id="n-TerminationReason"><rect class="B" x="258" y="747.7" width="32" height="22.7"/><text x="298" y="765.7">TerminationReason</text></g>
<g id="n-TerminationType"><rect class="B" x="258" y="783.3" width="32" height="22.7"/><text x="298" y="801.3">TerminationType</text></g>
<g id="n-OccupationType"><rect class="B" x="258" y="819" width="32" height="22.7"/><text x="298" y="837">OccupationType</text></g>
<g id="n-LeaveType"><rect class="B" x="258" y="854.7" width="32" height="22.7"/><text x="298" y="872.7">LeaveType</text></g>
<g id="n-SalaryGrade"><rect class="S" x="258" y="890.3" width="32" height="45.3"/><text x="298" y="919.6">SalaryGrade</text></g>
<g id="n-InterviewType"><rect class="B" x="258" y="948.3" width="32" height="22.7"/><text x="298" y="966.3">InterviewType</text></g>
<g id="n-TrainingCourseType"><rect class="B" x="258" y="983.8" width="32" height="22.7"/><text x="298" y="1001.8">TrainingCourseType</text></g>
<g id="n-PublicHoliday"><rect class="B" x="258" y="1019.3" width="32" height="22.7"/><text x="298" y="1037.3">PublicHoliday</text></g>
<g id="n-Instructor"><rect class="B" x="258" y="1055" width="32" height="22.7"/><text x="298" y="1073">Instructor</text></g>
<g id="n-PageType"><rect class="B" x="258" y="1090.4" width="32" height="22.7"/><text x="298" y="1108.4">PageType</text></g>
<g id="n-PublicKeyType"><rect class="B" x="258" y="1126" width="32" height="22.7"/><text x="298" y="1144">PublicKeyType</text></g>
<g id="n-RetailStoreCountryCenter"><rect class="P" x="82" y="18" width="32" height="544.1"/><text x="122" y="296.7">RetailStoreCountryCenter</text></g>
<g id="n-RetailStoreCreation"><rect class="B" x="82" y="577" width="32" height="22.7"/><text x="122" y="595">RetailStoreCreation</text></g>
<g id="n-RetailStoreInvestmentInvitation"><rect class="B" x="82" y="612.7" width="32" height="22.7"/><text x="122" y="630.7">RetailStoreInvestmentInvitation</text></g>
<g id="n-RetailStoreFranchising"><rect class="B" x="82" y="648.3" width="32" height="22.7"/><text x="122" y="666.3">RetailStoreFranchising</text></g>
<g id="n-RetailStoreDecoration"><rect class="B" x="82" y="684" width="32" height="22.7"/><text x="122" y="702">RetailStoreDecoration</text></g>
<g id="n-RetailStoreOpening"><rect class="B" x="82" y="719.7" width="32" height="22.7"/><text x="122" y="737.7">RetailStoreOpening</text></g>
<g id="n-RetailStoreClosing"><rect class="B" x="82" y="755.3" width="32" height="22.7"/><text x="122" y="773.3">RetailStoreClosing</text></g>
<g id="n-View"><text x="122" y="796.3">View</text></g>
<g id="n-Scoring"><rect class="B" x="82" y="803.5" width="32" height="22.7"/><text x="122" y="821.5">Scoring</text></g>
<g id="n-MobileApp"><rect class="S" x="82" y="839.3" width="32" height="45.3"/><text x="122" y="868.6">MobileApp</text></g>
<g id="n-TreeNode"><text x="122" y="902.8">TreeNode</text></g>
</g>
</svg>
